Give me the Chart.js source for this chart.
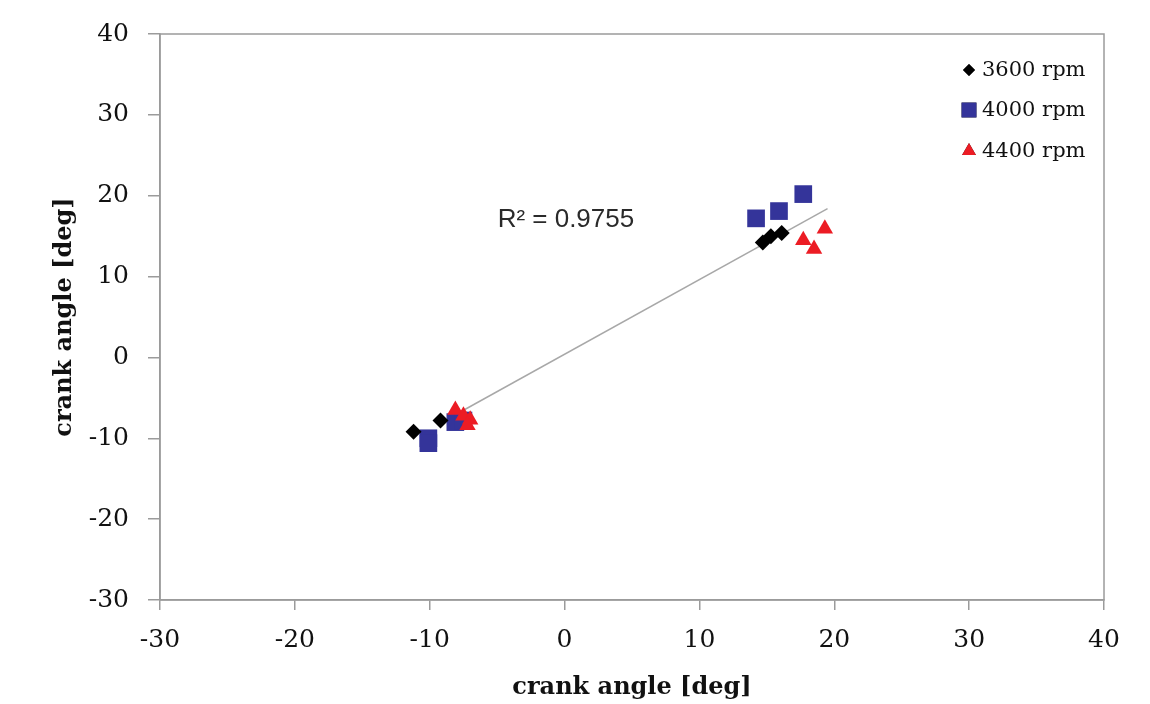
<!DOCTYPE html>
<html>
<head>
<meta charset="utf-8">
<script src="https://cdn.jsdelivr.net/npm/chart.js@4/dist/chart.umd.min.js"></script>
<style>
  html, body { margin: 0; padding: 0; background: #fff; }
  #wrap { width: 1150px; height: 704px; }
</style>
</head>
<body>
<div id="wrap"><canvas id="cCrank"></canvas></div>
<script>
// values
const rpm3600X = [-11.2, -9.2, 14.7, 15.3, 16.1];
const rpm3600Y = [-9.2, -7.8, 14.2, 15.0, 15.4];
const rpm4000X = [-10.1, -10.1, -8.1, -7.5, 14.2, 15.9, 17.7];
const rpm4000Y = [-10.0, -10.6, -8.0, -7.8, 17.2, 18.1, 20.2];
const rpm4400X = [-8.1, -7.5, -7.0, -7.2, 17.7, 18.5, 19.3];
const rpm4400Y = [-6.5, -7.2, -7.7, -8.4, 14.5, 13.4, 15.9];
const trendX = [-8.0, 19.5];
const trendY = [-7.0, 18.4];
const axisTicks = [-30, -20, -10, 0, 10, 20, 30, 40];
const seriesNames = ['3600 rpm', '4000 rpm', '4400 rpm'];
const r2Text = 'R\u00b2 = 0.9755';

function toPoints(xs, ys) {
    let pts = [];
    for (let i = 0; i < xs.length; i++) pts.push({x: xs[i], y: ys[i]});
    return pts;
}

const serifFont = '"DejaVu Serif", serif';
const lineGray = '#9b9b9b';

// border box, R² label and the legend inside the plot
const extrasPlugin = {
    id: 'extras',
    afterDraw(chart) {
        const ctx = chart.ctx;
        const a = chart.chartArea;
        ctx.save();
        ctx.strokeStyle = lineGray;
        ctx.lineWidth = 1.5;
        ctx.strokeRect(a.left, a.top, a.right - a.left, a.bottom - a.top);

        // R² text, placed in data coords
        const xs = chart.scales.x, ys = chart.scales.y;
        ctx.font = '26px "Liberation Sans", sans-serif';
        ctx.fillStyle = '#2a2a2a';
        ctx.textAlign = 'center';
        ctx.textBaseline = 'middle';
        ctx.fillText(r2Text, xs.getPixelForValue(0.1), ys.getPixelForValue(17.0));

        // legend
        const rows = [70, 110, 151];
        ctx.textAlign = 'left';
        ctx.font = '21px ' + serifFont;
        chart.data.datasets.slice(0, 3).forEach((ds, i) => {
            Chart.helpers.drawPoint(ctx, {
                pointStyle: ds.pointStyle,
                radius: ds.legendRadius,
                rotation: 0,
                borderWidth: 0
            }, 969, rows[i]);
            ctx.fillStyle = ds.backgroundColor;
            ctx.fill();
            ctx.fillStyle = '#111';
            ctx.fillText(seriesNames[i], 982, rows[i] + 1);
        });
        ctx.restore();
    }
};

function axisOpts(isX) {
    return {
        type: 'linear',
        min: -30,
        max: 40,
        afterBuildTicks: (axis) => { axis.ticks = axisTicks.map(v => ({value: v})); },
        afterFit: (axis) => {
            if (isX) axis.height = 104; else axis.width = 160;
        },
        grid: {
            drawOnChartArea: false,
            drawTicks: true,
            tickLength: isX ? 10 : 12,
            color: lineGray,
            lineWidth: 1.5
        },
        border: { color: lineGray, width: 1.5 },
        ticks: {
            color: '#111',
            padding: isX ? 15 : 19,
            font: { family: serifFont, size: 25 }
        },
        title: {
            display: true,
            text: 'crank angle [deg]',
            color: '#111',
            font: { family: serifFont, size: 24, weight: 'bold' },
            padding: isX ? { top: 0, bottom: 2 } : { top: 50, bottom: 0 }
        }
    };
}

window.addEventListener('load', () => {
    const cCrank = document.getElementById('cCrank');
    new Chart(cCrank, {
        type: 'scatter',
        data: {
            datasets: [{
                label: seriesNames[0],
                data: toPoints(rpm3600X, rpm3600Y),
                pointStyle: 'rectRot',
                pointRadius: 8,
                legendRadius: 6,
                backgroundColor: '#000000',
                borderColor: '#000000',
                borderWidth: 0,
                order: 1
            }, {
                label: seriesNames[1],
                data: toPoints(rpm4000X, rpm4000Y),
                pointStyle: 'rect',
                pointRadius: 12.5,
                legendRadius: 10.5,
                backgroundColor: '#34349a',
                borderColor: '#34349a',
                borderWidth: 0,
                order: 3
            }, {
                label: seriesNames[2],
                data: toPoints(rpm4400X, rpm4400Y),
                pointStyle: 'triangle',
                pointRadius: 9.5,
                legendRadius: 8,
                backgroundColor: '#ec1c24',
                borderColor: '#ec1c24',
                borderWidth: 0,
                order: 2
            }, {
                label: 'trend',
                data: toPoints(trendX, trendY),
                showLine: true,
                pointRadius: 0,
                borderColor: '#a8a8a8',
                borderWidth: 1.5,
                order: 10
            }]
        },
        options: {
            responsive: true,
            maintainAspectRatio: false,
            animation: false,
            layout: { padding: { top: 30, right: 46, left: 0, bottom: 0 } },
            plugins: {
                legend: { display: false },
                tooltip: { enabled: false }
            },
            scales: {
                x: axisOpts(true),
                y: axisOpts(false)
            }
        },
        plugins: [extrasPlugin]
    });
});
</script>
</body>
</html>
